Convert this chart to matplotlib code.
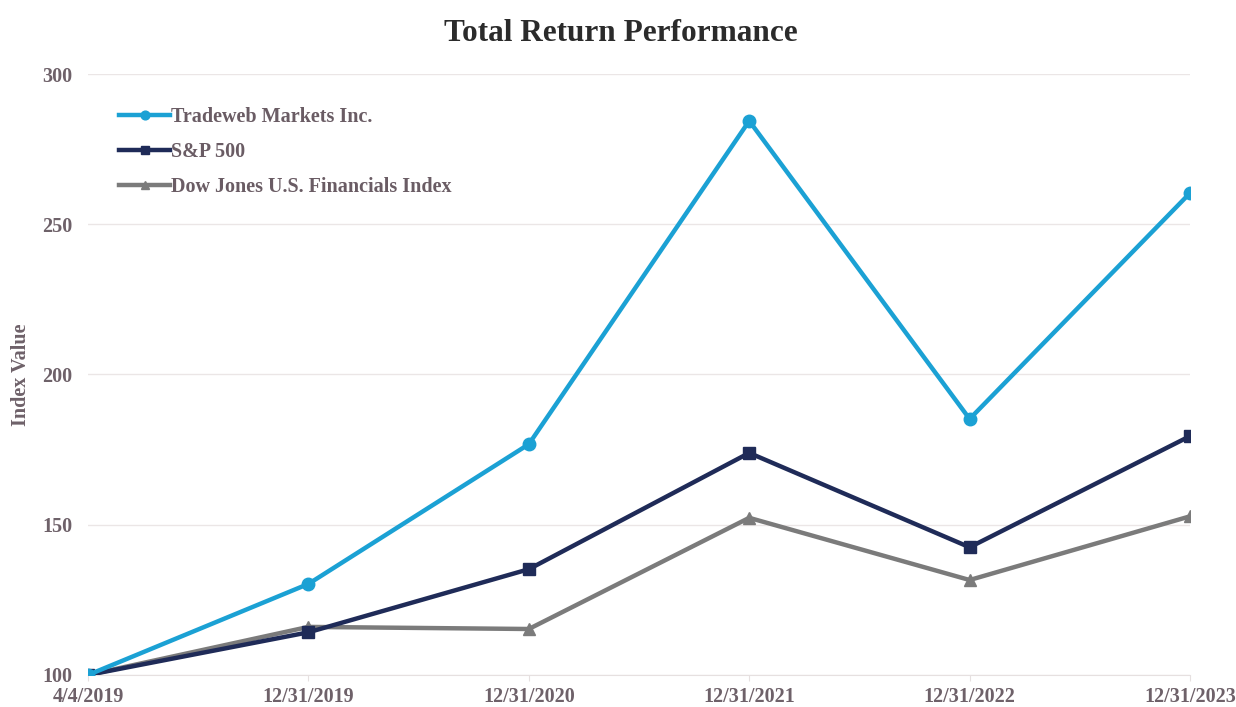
import matplotlib
matplotlib.use("Agg")
import matplotlib.pyplot as plt

dates = ["4/4/2019", "12/31/2019", "12/31/2020", "12/31/2021", "12/31/2022", "12/31/2023"]
tradeweb = [100, 130.3, 176.8, 284.4, 185.2, 260.4]
sp500 = [100, 114.2, 135.2, 173.9, 142.5, 179.5]
djfin = [100, 116.0, 115.3, 152.3, 131.6, 152.8]
y_ticks = [100, 150, 200, 250, 300]

plt.rcParams['font.family'] = ['Liberation Serif', 'DejaVu Serif']

fig = plt.figure(figsize=(12.36, 7.07), dpi=100)
ax = fig.add_axes([0.0712, 0.0453, 0.8916, 0.85])

x = list(range(len(dates)))
ax.plot(x, tradeweb, color='#1ba1d4', lw=3.2, marker='o', ms=9, label='Tradeweb Markets Inc.', zorder=4)
ax.plot(x, sp500, color='#1f2b58', lw=3.2, marker='s', ms=9, label='S&P 500', zorder=3)
ax.plot(x, djfin, color='#7b7b7b', lw=3.2, marker='^', ms=9, label='Dow Jones U.S. Financials Index', zorder=2)

ax.set_xlim(0, len(dates) - 1)
ax.set_ylim(100, 300)
ax.set_yticks(y_ticks)
ax.set_xticks(x)
ax.set_xticklabels(dates)

lab_color = '#6e6169'
ax.tick_params(axis='y', length=0, pad=11, labelsize=14.5, labelcolor=lab_color)
ax.tick_params(axis='x', length=4, color='#e6e0e0', pad=5, labelsize=14.5, labelcolor=lab_color)
for lab in ax.get_xticklabels() + ax.get_yticklabels():
    lab.set_fontweight('bold')

ax.grid(axis='y', color='#ebe6e6', lw=1)
ax.set_axisbelow(True)
for s in ['top', 'right', 'left']:
    ax.spines[s].set_visible(False)
ax.spines['bottom'].set_color('#e6e0e0')

ax.set_ylabel('Index Value', fontsize=14.5, fontweight='bold', color=lab_color)
ax.yaxis.set_label_coords(-0.052, 0.5)

fig.text(0.502, 0.953, 'Total Return Performance', ha='center', va='center',
         fontsize=22.5, fontweight='bold', color='#2b2b2b')

leg = ax.legend(loc='upper left', bbox_to_anchor=(0.012, 0.975), frameon=False,
                handlelength=2.5, handletextpad=0.05, labelspacing=0.75,
                markerscale=0.7, labelcolor='#6a5c64', prop={'weight': 'bold', 'size': 14.5})

fig.savefig('out.png', dpi=100, facecolor='white')
